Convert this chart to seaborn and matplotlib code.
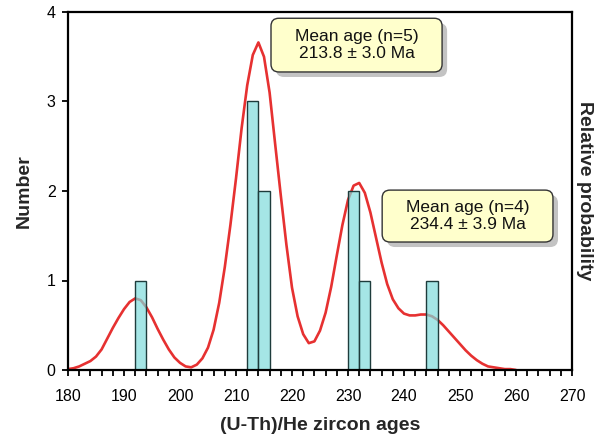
import matplotlib
matplotlib.use('Agg')
import matplotlib.pyplot as plt
import matplotlib.patches as mpatches
from matplotlib.ticker import MultipleLocator
import seaborn as sns

# histogram bins (2 Ma wide), centre of bin and number of grains
bin_centers = [193, 213, 215, 231, 233, 245]
bin_counts = [1, 3, 2, 2, 1, 1]

# relative probability curve (in "Number" units)
curve_age = list(range(180, 261))
curve_prob = [
    0.01, 0.02, 0.04, 0.07, 0.10, 0.15, 0.23, 0.35, 0.47, 0.58,   # 180-189
    0.68, 0.76, 0.80, 0.78, 0.70, 0.59, 0.46, 0.34, 0.23, 0.14,   # 190-199
    0.08, 0.04, 0.03, 0.06, 0.13, 0.25, 0.45, 0.75, 1.15, 1.62,   # 200-209
    2.14, 2.70, 3.18, 3.52, 3.66, 3.50, 3.10, 2.52, 1.95, 1.40,   # 210-219
    0.92, 0.60, 0.40, 0.30, 0.32, 0.44, 0.64, 0.93, 1.28, 1.62,   # 220-229
    1.90, 2.06, 2.09, 1.98, 1.76, 1.48, 1.20, 0.96, 0.79, 0.69,   # 230-239
    0.63, 0.61, 0.61, 0.62, 0.62, 0.60, 0.56, 0.50, 0.43, 0.36,   # 240-249
    0.29, 0.22, 0.16, 0.11, 0.07, 0.04, 0.03, 0.02, 0.01, 0.01,   # 250-259
    0.00,                                                         # 260
]

# annotation boxes: text lines
box_texts = ["Mean age (n=5)\n213.8 \u00b1 3.0 Ma",
             "Mean age (n=4)\n234.4 \u00b1 3.9 Ma"]

sns.set_style("ticks")
plt.rcParams['font.family'] = ['Liberation Sans', 'DejaVu Sans']

fig = plt.figure(figsize=(5.95, 4.37), dpi=100)
ax = fig.add_axes([68 / 595, 67 / 437, 504 / 595, 358 / 437])

# probability curve under the bars
ax.plot(curve_age, curve_prob, color='#e41a1a', lw=1.9, alpha=0.9, zorder=1,
        solid_joinstyle='round')

sns.histplot(x=bin_centers, weights=bin_counts, binwidth=2, binrange=(180, 270),
             color='#7fdcdc', alpha=0.7, edgecolor='#1e3c3c', linewidth=1.0,
             ax=ax, zorder=2)

ax.set_xlim(180, 270)
ax.set_ylim(0, 4)
ax.xaxis.set_major_locator(MultipleLocator(10))
ax.xaxis.set_minor_locator(MultipleLocator(2))
ax.yaxis.set_major_locator(MultipleLocator(1))
ax.tick_params(axis='both', which='both', direction='out', length=4, width=1.3,
               color='black', labelsize=11.5, labelcolor='black')
ax.tick_params(axis='x', pad=10)
ax.tick_params(axis='y', pad=5)
for s in ax.spines.values():
    s.set_linewidth(1.6)
    s.set_color('black')

ax.set_xlabel('(U-Th)/He zircon ages', fontsize=14, fontweight='bold', labelpad=9)
ax.set_ylabel('Number', fontsize=14, fontweight='bold', labelpad=10)

# right hand axis title
fig.text(585 / 595, (67 + 179) / 437, 'Relative probability', rotation=270,
         ha='center', va='center', fontsize=14, fontweight='bold')

# annotation boxes with drop shadow
aspect = (504 / 90) / (358 / 4)
boxes = [(216.25, 3.33, 30.55, 0.60), (236.1, 1.43, 30.5, 0.58)]
for (x0, y0, w, h), txt in zip(boxes, box_texts):
    shadow = mpatches.FancyBboxPatch((x0 + 0.9, y0 - 0.056), w, h,
                                     boxstyle="round,pad=0,rounding_size=1.4",
                                     mutation_aspect=aspect, fc='#b4b4b4',
                                     ec='none', alpha=0.8, zorder=3)
    ax.add_patch(shadow)
    box = mpatches.FancyBboxPatch((x0, y0), w, h,
                                  boxstyle="round,pad=0,rounding_size=1.4",
                                  mutation_aspect=aspect, fc='#ffffcc',
                                  ec='#333333', lw=1.0, zorder=4)
    ax.add_patch(box)
    ax.text(x0 + w / 2, y0 + h / 2, txt, ha='center', va='center',
            fontsize=12.5, linespacing=1.15, color='#111111', zorder=5)

fig.savefig('out.png', dpi=100)
